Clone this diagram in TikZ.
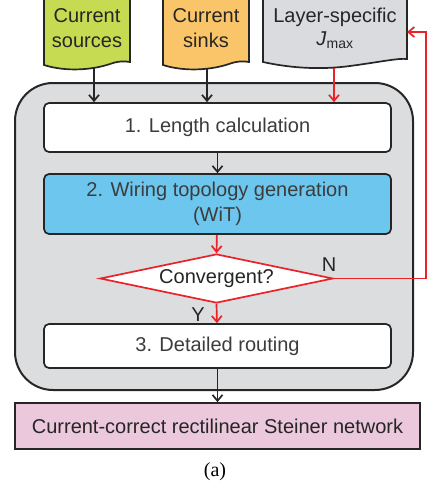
\documentclass[tikz,border=0pt]{standalone}
\usepackage{fontspec}
\setmainfont{Liberation Sans}
\newfontfamily\seriffont{Liberation Serif}
\usetikzlibrary{shapes.geometric,arrows.meta}
\definecolor{cgreen}{RGB}{198,218,82}
\definecolor{corange}{RGB}{250,196,104}
\definecolor{cgray}{RGB}{218,219,222}
\definecolor{cframe}{RGB}{220,221,223}
\definecolor{cblue}{RGB}{108,198,238}
\definecolor{cpink}{RGB}{236,200,220}
\definecolor{cred}{RGB}{232,35,42}
\definecolor{ctext}{RGB}{60,60,60}
\tikzset{
  box/.style={draw=black!85, line width=1.7pt, rounded corners=5pt, fill=white,
    minimum width=347pt, inner sep=0pt, text=ctext, align=center,
    font=\fontsize{20}{25}\selectfont},
  doctext/.style={text=black!85, align=center, font=\fontsize{20}{25}\selectfont},
  arr/.style={draw=black!85, line width=1.7pt, -{Straight Barb[length=6pt,width=10pt]}},
  rarr/.style={draw=cred, line width=1.7pt, -{Straight Barb[length=6pt,width=10pt]}},
  docedge/.style={draw=black!85, line width=1.7pt},
}
\begin{document}
\begin{tikzpicture}[x=1pt,y=-1pt]
\useasboundingbox (0,0) rectangle (429,488);
% frame
\draw[line width=2pt, draw=black!85, fill=cframe, rounded corners=38pt] (15,83) rectangle (413,390);
% documents
\filldraw[docedge, fill=cgreen] (44,-3) -- (44,65) .. controls (66,72) and (92,70) .. (110,64) .. controls (118,61) and (125,61) .. (130,62) -- (130,-3);
\filldraw[docedge, fill=corange] (163,-3) -- (163,65) .. controls (185,72) and (211,70) .. (229,64) .. controls (237,61) and (244,61) .. (249,62) -- (249,-3);
\filldraw[docedge, fill=cgray] (263,-3) -- (263,62) .. controls (290,68) and (320,70) .. (350,66) .. controls (380,62) and (398,58) .. (407,59) -- (407,-3);
\node[doctext] (src) at (87,28) {Current\\sources};
\node[doctext] (snk) at (206,28) {Current\\sinks};
\node[doctext] (lay) at (335,28) {Layer-specific\\[-2pt]\textit{J}\textsubscript{\fontsize{14}{14}\selectfont max}};
\coordinate (srcb) at (94,68);
\coordinate (snkb) at (207,68);
\coordinate (layb) at (334,68);
\coordinate (layr) at (407,32);
% boxes
\node[box, minimum height=49pt] (b1) at (217.5,127.5) {1. Length calculation};
\node[box, minimum height=60pt, fill=cblue] (b2) at (217.5,204) {2. Wiring topology generation\\(WiT)};
\node[diamond, draw=cred, line width=1.7pt, fill=white, inner sep=0pt, aspect=4.75,
  minimum width=233pt, minimum height=49pt, text=black!85,
  font=\fontsize{20}{25}\selectfont] (cv) at (216.5,278.5) {Convergent?};
\node[box, minimum height=44pt] (b3) at (217.5,346) {3. Detailed routing};
\node[draw=black!85, line width=1.7pt, fill=cpink, minimum width=405pt, minimum height=46pt,
  inner sep=0pt, text=black!85, font=\fontsize{20}{25}\selectfont] (st) at (217.5,426) {Current-correct rectilinear Steiner network};
\node[font=\seriffont\fontsize{20}{24}\selectfont] (cap) at (215,472) {(a)};
% connectors
\draw[arr] (srcb) -- (srcb |- b1.north);
\draw[arr] (snkb) -- (snkb |- b1.north);
\draw[rarr] (layb) -- (layb |- b1.north);
\draw[arr] (b1) -- (b2);
\draw[rarr] (b2) -- (cv.north);
\draw[rarr] (cv.south) -- (b3);
\draw[arr] (b3) -- (st);
\coordinate (rc) at (426,0);
\draw[rarr] (cv.east) -- (cv.east -| rc) |- (layr);
\node[font=\fontsize{20}{24}\selectfont, text=black!85] (nl) at (329,265) {N};
\node[font=\fontsize{20}{24}\selectfont, text=black!85] (yl) at (198,315) {Y};
\end{tikzpicture}
\end{document}
